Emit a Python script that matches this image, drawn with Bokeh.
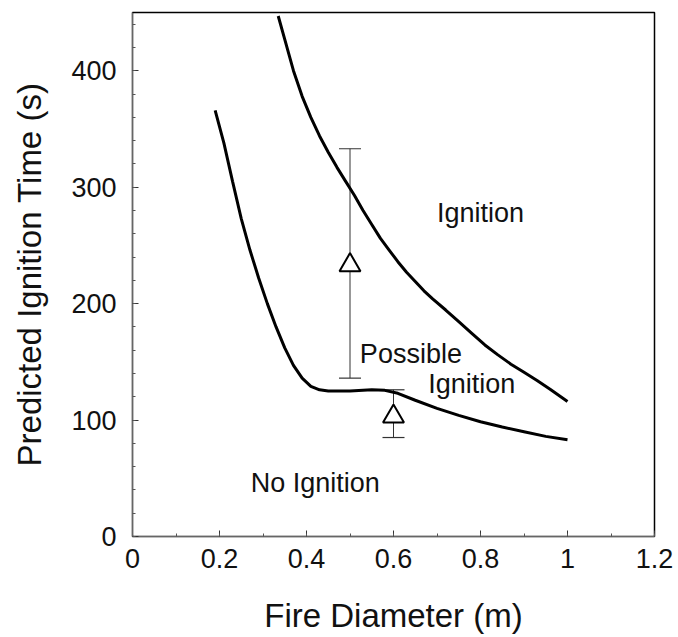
from bokeh.plotting import figure
from bokeh.models import Range1d, ColumnDataSource, Whisker, TeeHead, FixedTicker, NumeralTickFormatter
from bokeh.core.properties import value
from bokeh.embed import file_html
from bokeh.resources import INLINE

# Lower boundary curve (no ignition / possible ignition)
lower_x = [0.19, 0.21, 0.23, 0.25, 0.27, 0.29, 0.31, 0.33, 0.35, 0.37, 0.39, 0.41, 0.43, 0.45,
           0.50, 0.55, 0.58, 0.61, 0.65, 0.70, 0.75, 0.80, 0.85, 0.90, 0.95, 1.00]
lower_y = [366, 338, 305, 273, 246, 222, 200, 180, 162, 147, 136, 129, 126, 125,
           125, 126, 125.5, 123, 117, 110, 104, 98.5, 94, 90, 86, 83]

# Upper boundary curve (possible ignition / ignition)
upper_x = [0.335, 0.35, 0.37, 0.39, 0.41, 0.43, 0.45, 0.47, 0.49, 0.51, 0.53, 0.55, 0.57, 0.59,
           0.61, 0.63, 0.65, 0.67, 0.69, 0.72, 0.75, 0.78, 0.81, 0.84, 0.87, 0.90, 0.93, 0.96, 1.00]
upper_y = [447, 427, 400, 378, 360, 344, 330, 317, 305, 293, 280, 268, 256, 246,
           236, 227, 219, 211, 204, 194.5, 184.5, 174.5, 164.5, 156, 148, 141, 134, 126.5, 116]

# Experimental points with error bars
exp_x = [0.5, 0.6]
exp_y = [233, 103]
exp_lo = [136, 85]
exp_hi = [333, 126]

# Region labels
label_text = ["Ignition", "Possible", "Ignition", "No Ignition"]
label_x = [0.80, 0.64, 0.78, 0.42]
label_y = [278, 157, 131, 46]

x_ticks = [0, 0.2, 0.4, 0.6, 0.8, 1.0, 1.2]
y_ticks = [0, 100, 200, 300, 400]

FONT = "Liberation Sans"

p = figure(width=678, height=637, output_backend="svg", toolbar_location=None,
           x_range=Range1d(0, 1.2), y_range=Range1d(0, 450),
           min_border_left=132, min_border_right=24, min_border_top=12, min_border_bottom=101,
           background_fill_color="white", border_fill_color="white")
p.grid.visible = False
p.outline_line_color = "black"
p.outline_line_width = 1.5

p.line(lower_x, lower_y, line_color="black", line_width=3)
p.line(upper_x, upper_y, line_color="black", line_width=3)

src = ColumnDataSource(dict(x=exp_x, y=exp_y, lo=exp_lo, hi=exp_hi))
w = Whisker(source=src, base="x", upper="hi", lower="lo", dimension="height",
            line_color="#333333", line_width=1,
            upper_head=TeeHead(size=22, line_color="#333333", line_width=1.2),
            lower_head=TeeHead(size=22, line_color="#333333", line_width=1.2))
p.add_layout(w)
p.scatter("x", "y", source=src, marker="triangle", size=21, fill_color="white",
          line_color="black", line_width=2)

p.text(label_x, label_y, text=label_text, text_font=value(FONT), text_font_size="27px",
       text_align="center", text_baseline="middle", text_color="#111111")

p.xaxis.ticker = FixedTicker(ticks=x_ticks, minor_ticks=[i / 10 for i in range(13)])
p.yaxis.ticker = FixedTicker(ticks=y_ticks, minor_ticks=list(range(0, 451, 20)))
p.xaxis.formatter = NumeralTickFormatter(format="0.[0]")

for ax in (p.xaxis[0], p.yaxis[0]):
    ax.major_tick_in = 6
    ax.major_tick_out = 0
    ax.minor_tick_in = 3
    ax.minor_tick_out = 0
    ax.axis_line_color = "#666666"
    ax.major_tick_line_color = "#333333"
    ax.minor_tick_line_color = "#555555"
    ax.major_label_text_font = FONT
    ax.major_label_text_font_size = "27px"
    ax.major_label_text_color = "#111111"
    ax.axis_label_text_font = FONT
    ax.axis_label_text_font_size = "33px"
    ax.axis_label_text_font_style = "normal"
    ax.axis_label_text_color = "#111111"

p.xaxis.axis_label = "Fire Diameter (m)"
p.yaxis.axis_label = "Predicted Ignition Time (s)"
p.xaxis.major_label_standoff = 12
p.yaxis.major_label_standoff = 16
p.xaxis.axis_label_standoff = 26
p.yaxis.axis_label_standoff = 20

open("out.html", "w").write(file_html(p, INLINE))
